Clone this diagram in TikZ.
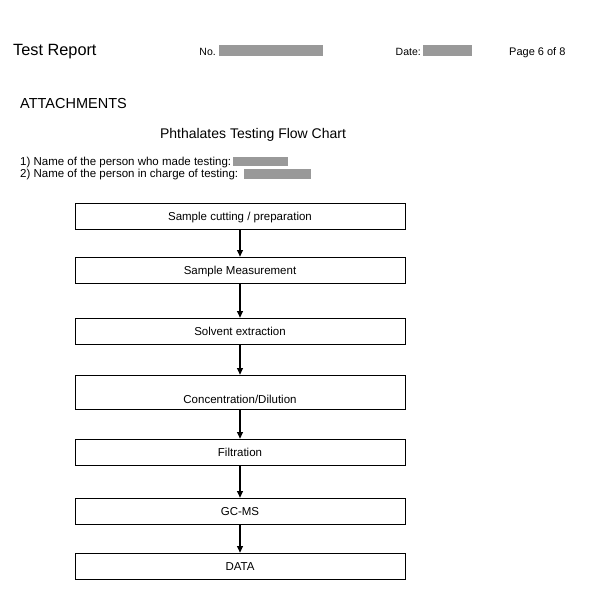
\documentclass[tikz,border=0pt]{standalone}
\usepackage{fontspec}
\setmainfont{Liberation Sans}
\usetikzlibrary{arrows.meta}

\begin{document}
\begin{tikzpicture}[x=1pt,y=-1pt,
  stepbox/.style={draw,line width=0.8pt,minimum width=330pt,minimum height=26pt,
    inner sep=0pt,text height=11pt,text depth=2.8pt,font=\fontsize{11.5}{13}\selectfont},
  txt/.style={anchor=mid west,inner sep=0pt,font=\fontsize{11.5}{13}\selectfont},
  blank/.style={fill=black!40,draw=none},
  flow/.style={-{Triangle[length=6.5pt,width=6pt]},line width=1.1pt}]
  %
  \useasboundingbox (0,0) rectangle (600,615);
  %
  % header
  \node[txt,font=\fontsize{16.3}{18}\selectfont] (report) at (13,53) {Test Report};
  \node[txt,anchor=mid east,font=\fontsize{10.5}{12}\selectfont] (no) at (216,53) {No.};
  \fill[blank] (219,45) rectangle (323,56);
  \node[txt,anchor=mid east,font=\fontsize{10.5}{12}\selectfont] (date) at (421,53) {Date:};
  \fill[blank] (423,45) rectangle (472,56);
  \node[txt,font=\fontsize{11}{12}\selectfont] (page) at (509,53) {Page 6 of 8};
  %
  \node[txt,font=\fontsize{14.5}{16}\selectfont] (att) at (20,106) {ATTACHMENTS};
  \node[anchor=mid,inner sep=0pt,font=\fontsize{14}{16}\selectfont] (title) at (253,136) {Phthalates Testing Flow Chart};
  %
  \node[txt] (who) at (20,163) {1) Name of the person who made testing:};
  \fill[blank] (233,157) rectangle (288,166);
  \node[txt] (charge) at (20,175) {2) Name of the person in charge of testing:};
  \fill[blank] (244,169) rectangle (311,179);
  %
  % flow chart
  \node[stepbox] (cut) at (240,216) {Sample cutting / preparation};
  \node[stepbox] (meas) at (240,270) {Sample Measurement};
  \node[stepbox] (extr) at (240,331) {Solvent extraction};
  \node[stepbox,minimum height=34pt,text height=24pt,text depth=2pt] (conc) at (240,392) {Concentration/Dilution};
  \node[stepbox] (filt) at (240,452) {Filtration};
  \node[stepbox] (gcms) at (240,511) {GC-MS};
  \node[stepbox] (data) at (240,566) {DATA};
  %
  \draw[flow] (cut) -- (meas);
  \draw[flow] (meas) -- (extr);
  \draw[flow] (extr) -- (conc);
  \draw[flow] (conc) -- (filt);
  \draw[flow] (filt) -- (gcms);
  \draw[flow] (gcms) -- (data);
  %
\end{tikzpicture}
\end{document}
